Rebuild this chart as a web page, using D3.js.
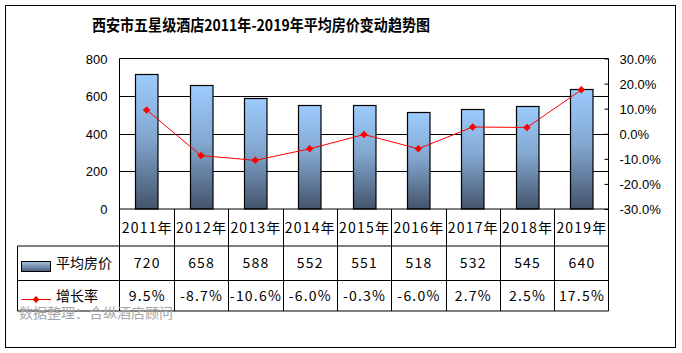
<!DOCTYPE html>
<html><head><meta charset="utf-8">
<script src="https://cdn.jsdelivr.net/npm/d3@7"></script>
<style>body{margin:0;background:#fff}svg{display:block}</style>
</head><body>
<svg id="c" width="682" height="353"></svg>
<script>
const categories = ["2011年","2012年","2013年","2014年","2015年","2016年","2017年","2018年","2019年"];
const priceValues = [720,658,588,552,551,518,532,545,640];
const growthValues = [9.5,-8.7,-10.6,-6.0,-0.3,-6.0,2.7,2.5,17.5];
const growthLabels = ["9.5%","-8.7%","-10.6%","-6.0%","-0.3%","-6.0%","2.7%","2.5%","17.5%"];
const leftTicks = [0,200,400,600,800];
const rightTicks = [-30,-20,-10,0,10,20,30];
const title = "西安市五星级酒店2011年-2019年平均房价变动趋势图";
const seriesNames = ["平均房价","增长率"];
const source = "数据整理：合纵酒店顾问";

const svg = d3.select("#c");
const cjk = "'Noto Sans CJK SC','Noto Sans',sans-serif";
const arial = "'Liberation Sans',Arial,sans-serif";

const L = 119.5, R = 608.5, T = 58.5, B = 209;
const rowTop = 209, row1 = 246, row2 = 280.5, rowBot = 311, tableLeft = 17.5;

const defs = svg.append("defs");
const g1 = defs.append("linearGradient").attr("id","barg").attr("x1",0).attr("y1",0).attr("x2",0).attr("y2",1);
g1.append("stop").attr("offset","0%").attr("stop-color","#9CCBFD");
g1.append("stop").attr("offset","45%").attr("stop-color","#84A9D2");
g1.append("stop").attr("offset","100%").attr("stop-color","#44546C");
const g2 = defs.append("linearGradient").attr("id","bargl").attr("x1",0).attr("y1",0).attr("x2",0).attr("y2",1);
g2.append("stop").attr("offset","0%").attr("stop-color","#A8C4E4");
g2.append("stop").attr("offset","100%").attr("stop-color","#4A5E7C");

// outer border
svg.append("rect").attr("x",5.5).attr("y",5.5).attr("width",670).attr("height",342)
  .attr("fill","#fff").attr("stroke","#000");

// title
svg.append("text").attr("x",261).attr("y",31).attr("text-anchor","middle")
  .attr("font-family",cjk).attr("font-weight","bold").attr("font-size",15.5)
  .attr("textLength",338).attr("lengthAdjust","spacingAndGlyphs").text(title);

const x = d3.scaleBand().domain(categories).range([L,R]).padding(0);
const y = d3.scaleLinear().domain([0,800]).range([B,T]);
const y2 = d3.scaleLinear().domain([-30,30]).range([B,T]);

// gridlines
svg.append("g").selectAll("line").data(leftTicks.filter(d=>d>0&&d<800)).join("line")
  .attr("x1",L).attr("x2",R).attr("y1",d=>Math.round(y(d))+0.5).attr("y2",d=>Math.round(y(d))+0.5)
  .attr("stroke","#000");

// left axis labels
const la = svg.append("g").attr("transform",`translate(${L},0)`)
  .call(d3.axisLeft(y).tickValues(leftTicks).tickSize(0).tickPadding(12));
la.select(".domain").remove();
la.selectAll("text").attr("font-family",arial).attr("font-size",13).attr("fill","#000").attr("dy","0.35em");

// right axis
const ra = svg.append("g").attr("transform",`translate(${R},0)`)
  .call(d3.axisRight(y2).tickValues(rightTicks).tickSize(-4).tickPadding(11).tickFormat(d=>d.toFixed(1)+"%"));
ra.select(".domain").remove();
ra.selectAll("line").attr("stroke","#000");
ra.selectAll("text").attr("font-family",arial).attr("font-size",13).attr("fill","#000").attr("dy","0.35em");

// bars
const bw = 22.5;
svg.append("g").selectAll("rect").data(priceValues).join("rect")
  .attr("x",(d,i)=>Math.round(x(categories[i])+x.bandwidth()/2-bw/2)+0.5)
  .attr("y",d=>Math.round(y(d))+0.5)
  .attr("width",bw).attr("height",d=>B-Math.round(y(d))-0.5)
  .attr("fill","url(#barg)").attr("stroke","#000").attr("stroke-width",1.2);

// plot border
svg.append("path").attr("d",`M${L},${rowBot}V${T}H${R}V${rowBot}`).attr("fill","none").attr("stroke","#000");
svg.append("line").attr("x1",L).attr("x2",R).attr("y1",B).attr("y2",B).attr("stroke","#000");

// line series
const line = d3.line().x((d,i)=>x(categories[i])+x.bandwidth()/2).y(d=>y2(d));
svg.append("path").datum(growthValues).attr("d",line).attr("fill","none").attr("stroke","#FF0000").attr("stroke-width",1);
svg.append("g").selectAll("path").data(growthValues).join("path")
  .attr("transform",(d,i)=>`translate(${x(categories[i])+x.bandwidth()/2},${y2(d)})`)
  .attr("d",d3.symbol(d3.symbolDiamond2,36)).attr("fill","#FF0000");

// table
const tg = svg.append("g");
[row1,row2,rowBot].forEach(yy=>tg.append("line").attr("x1",tableLeft).attr("x2",R).attr("y1",yy).attr("y2",yy).attr("stroke","#000"));
tg.append("line").attr("x1",tableLeft).attr("x2",tableLeft).attr("y1",row1).attr("y2",rowBot).attr("stroke","#000");
tg.selectAll(".vs").data(categories.slice(1)).join("line")
  .attr("x1",d=>Math.round(x(d))+0.5).attr("x2",d=>Math.round(x(d))+0.5).attr("y1",rowTop).attr("y2",rowBot).attr("stroke","#000");

const txt = (sel)=>sel.attr("font-family",cjk).attr("font-size",14).attr("fill","#000").attr("text-anchor","middle").attr("letter-spacing",1.2);
tg.selectAll(".cat").data(categories).join("text").call(txt)
  .attr("x",d=>x(d)+x.bandwidth()/2+0.6).attr("y",(rowTop+row1)/2+5).text(d=>d);
tg.selectAll(".pv").data(priceValues).join("text").call(txt)
  .attr("x",(d,i)=>x(categories[i])+x.bandwidth()/2+0.6).attr("y",(row1+row2)/2+5).text(d=>d);
tg.selectAll(".gv").data(growthLabels).join("text").call(txt)
  .attr("x",(d,i)=>x(categories[i])+x.bandwidth()/2+0.6).attr("y",(row2+rowBot)/2+5).text(d=>d);

// legend in table
tg.append("rect").attr("x",21.5).attr("y",261.5).attr("width",29).attr("height",10)
  .attr("fill","url(#bargl)").attr("stroke","#000");
tg.append("text").attr("x",56).attr("y",(row1+row2)/2+5).attr("font-family",cjk).attr("font-size",14).text(seriesNames[0]);
tg.append("line").attr("x1",21.5).attr("x2",51).attr("y1",299.5).attr("y2",299.5).attr("stroke","#FF0000");
tg.append("path").attr("transform","translate(36,299.5)").attr("d",d3.symbol(d3.symbolDiamond2,30)).attr("fill","#FF0000");
tg.append("text").attr("x",56).attr("y",(row2+rowBot)/2+5).attr("font-family",cjk).attr("font-size",14).text(seriesNames[1]);

// source
svg.append("text").attr("x",19).attr("y",318).attr("font-family",cjk).attr("font-size",14)
  .attr("fill","#A6A6A6").text(source);
</script>
</body></html>
